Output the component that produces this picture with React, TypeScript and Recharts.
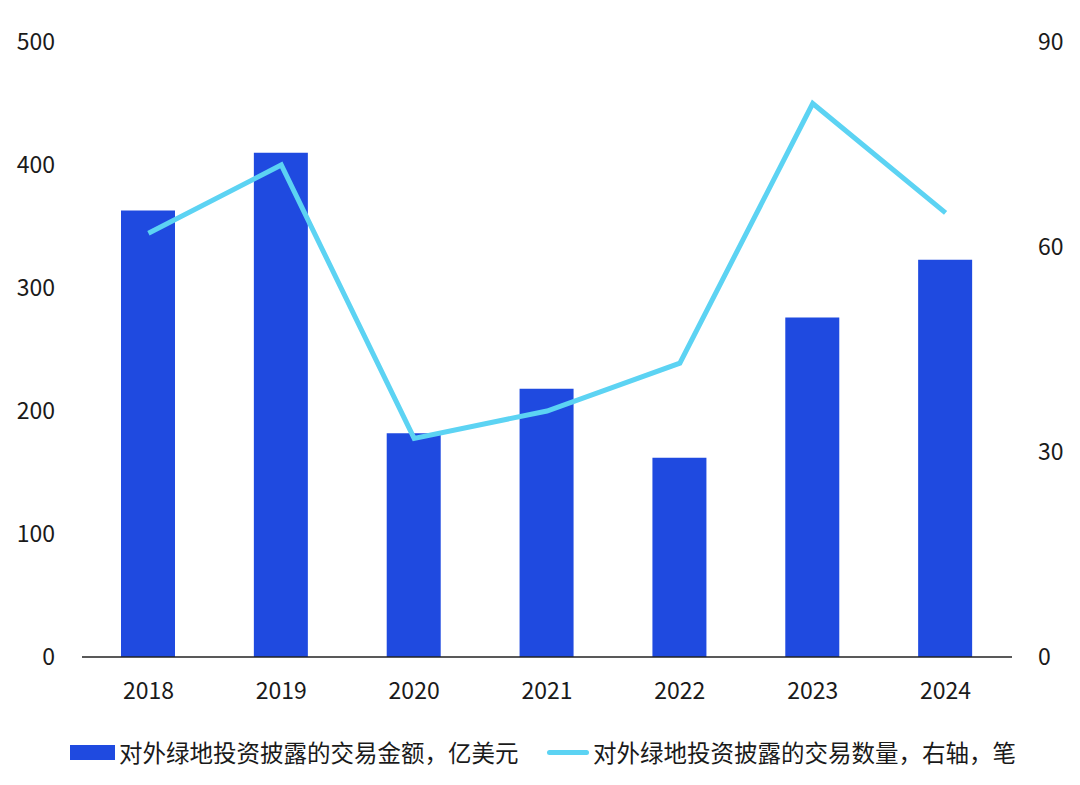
import { Bar, ComposedChart, Line, XAxis, YAxis } from 'recharts';

const years = ['2018', '2019', '2020', '2021', '2022', '2023', '2024'];
const amounts = [363, 410, 182, 218, 162, 276, 323]; // 亿美元
const counts = [62, 72, 32, 36, 43, 81, 65]; // 笔, right axis

const leftTicks = [0, 100, 200, 300, 400, 500];
const rightTicks = [0, 30, 60, 90];

const barColor = '#1f4ae0';
const lineColor = '#5cd3f3';
const font = '"Noto Sans CJK SC", "Noto Sans", sans-serif';

const data = years.map((year, i) => ({ year, amount: amounts[i], count: counts[i] }));

export default function App() {
  const tick = { fontSize: 23, fill: '#1a1a1a', fontFamily: font };

  return (
    <div style={{ position: 'absolute', left: 0, top: 0, width: 1080, height: 785, background: '#fff' }}>
      <ComposedChart width={1080} height={785} data={data} margin={{ top: 42, right: 0, left: 0, bottom: 0 }}>
        <XAxis
          dataKey="year"
          height={128}
          tick={tick}
          tickLine={false}
          tickSize={0}
          tickMargin={26}
          axisLine={{ stroke: '#222', strokeWidth: 1.5 }}
        />
        <YAxis
          yAxisId="left"
          width={82}
          domain={[0, 500]}
          ticks={leftTicks}
          tick={tick}
          tickLine={false}
          tickSize={0}
          tickMargin={27}
          axisLine={false}
        />
        <YAxis
          yAxisId="right"
          orientation="right"
          width={68}
          domain={[0, 90]}
          ticks={rightTicks}
          tick={{ ...tick, textAnchor: 'start' }}
          tickLine={false}
          tickSize={0}
          tickMargin={26}
          axisLine={false}
        />
        <Bar yAxisId="left" dataKey="amount" fill={barColor} barSize={54} isAnimationActive={false} />
        <Line
          yAxisId="right"
          dataKey="count"
          stroke={lineColor}
          strokeWidth={5}
          dot={false}
          type="linear"
          isAnimationActive={false}
        />
      </ComposedChart>

      {/* legend */}
      <div style={{ position: 'absolute', left: 70, top: 736, height: 32, display: 'flex', alignItems: 'center', fontFamily: font, fontSize: 23.5, color: '#1a1a1a', whiteSpace: 'nowrap' }}>
        <span style={{ display: 'inline-block', width: 45, height: 15, background: barColor, marginRight: 4 }} />
        <span>对外绿地投资披露的交易金额，亿美元</span>
      </div>
      <div style={{ position: 'absolute', left: 547, top: 736, height: 32, display: 'flex', alignItems: 'center', fontFamily: font, fontSize: 23.5, color: '#1a1a1a', whiteSpace: 'nowrap' }}>
        <span style={{ display: 'inline-block', width: 42, height: 5, borderRadius: 3, background: lineColor, marginRight: 4 }} />
        <span>对外绿地投资披露的交易数量，右轴，笔</span>
      </div>
    </div>
  );
}
